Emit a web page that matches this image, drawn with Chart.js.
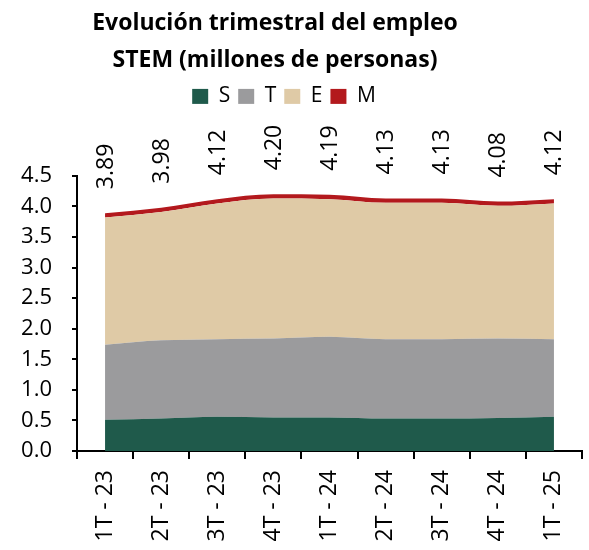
<!DOCTYPE html>
<html>
<head>
<meta charset="utf-8">
<script src="https://cdn.jsdelivr.net/npm/chart.js@4.4.1/dist/chart.umd.min.js"></script>
<style>
html,body{margin:0;padding:0;background:#fff;}
#wrap{width:589px;height:550px;position:relative;}
</style>
</head>
<body>
<div id="wrap"><canvas id="c" width="589" height="550"></canvas></div>
<script>
const categories = ["1T - 23","2T - 23","3T - 23","4T - 23","1T - 24","2T - 24","3T - 24","4T - 24","1T - 25"];
const seriesS = [0.51,0.53,0.56,0.55,0.55,0.53,0.53,0.54,0.56];
const seriesT = [1.23,1.28,1.27,1.29,1.32,1.30,1.30,1.30,1.27];
const seriesE = [2.08,2.10,2.22,2.29,2.25,2.23,2.23,2.17,2.22];
const seriesM = [0.07,0.07,0.07,0.07,0.07,0.07,0.07,0.07,0.07];
const totals = ["3.89","3.98","4.12","4.20","4.19","4.13","4.13","4.08","4.12"];
const yTicks = [0,0.5,1,1.5,2,2.5,3,3.5,4,4.5];

const FONT = "'Open Sans', 'Noto Sans', sans-serif";

const legendSpace = {
  id: 'legendSpace',
  beforeInit(chart) {
    const orig = chart.legend.fit;
    chart.legend.fit = function () { orig.bind(chart.legend)(); this.height += 55; };
  },
  afterLayout(chart) {
    if (chart.titleBlock) { chart.titleBlock.left = 0; chart.titleBlock.right = 550; chart.titleBlock.width = 550; }
    if (chart.legend) {
      chart.legend.left = 0; chart.legend.right = 568; chart.legend.width = 568;
      chart.legend.top -= 4; chart.legend.bottom -= 4;
    }
  }
};

const totalLabels = {
  id: 'totalLabels',
  afterDatasetsDraw(chart) {
    const ctx = chart.ctx;
    const xs = chart.scales.x, ys = chart.scales.y;
    ctx.save();
    ctx.fillStyle = '#000';
    ctx.font = "23px " + FONT;
    ctx.textAlign = 'left';
    ctx.textBaseline = 'middle';
    totals.forEach((t, i) => {
      const x = xs.getPixelForValue(i);
      const y = ys.getPixelForValue(parseFloat(t)) - 24;
      ctx.save();
      ctx.translate(x + 1, y);
      ctx.rotate(-Math.PI / 2);
      ctx.fillText(t, 0, 0);
      ctx.restore();
    });
    ctx.restore();
  }
};

function ds(label, data, color, fill) {
  return {
    label, data, fill,
    backgroundColor: color,
    borderColor: color,
    borderWidth: 0,
    pointRadius: 0,
    cubicInterpolationMode: 'monotone'
  };
}

new Chart(document.getElementById('c'), {
  type: 'line',
  data: {
    labels: categories,
    datasets: [
      ds('S', seriesS, '#1f5a4b', 'origin'),
      ds('T', seriesT, '#9b9b9d', '-1'),
      ds('E', seriesE, '#dfcaa6', '-1'),
      ds('M', seriesM, '#b3191d', '-1')
    ]
  },
  options: {
    responsive: false,
    animation: false,
    layout: { padding: { left: 0, right: 7, top: 2, bottom: 0 } },
    plugins: {
      title: {
        display: true,
        text: ['Evolución trimestral del empleo', 'STEM (millones de personas)'],
        color: '#000',
        font: { family: FONT, size: 23, weight: 'bold', lineHeight: 1.65 },
        padding: { top: 2, bottom: 2 }
      },
      legend: {
        display: true,
        labels: {
          color: '#000',
          font: { family: FONT, size: 21 },
          boxWidth: 16, boxHeight: 15,
          padding: 8
        }
      },
      tooltip: { enabled: false }
    },
    scales: {
      x: {
        offset: true,
        afterFit(s) { s.height = 99; s.paddingLeft = 0; s.paddingRight = 0; },
        grid: { display: true, drawOnChartArea: false, drawTicks: true, tickLength: 8, offset: true, color: '#000', lineWidth: 2 },
        border: { display: true, color: '#000', width: 2 },
        ticks: { color: '#000', font: { family: FONT, size: 23 }, maxRotation: 90, minRotation: 90, padding: 11, autoSkip: false }
      },
      y: {
        stacked: true,
        min: 0, max: 4.5,
        afterBuildTicks(scale) { scale.ticks = yTicks.map(v => ({ value: v })); },
        afterFit(s) { s.width = 77; },
        grid: { display: true, drawOnChartArea: false, drawTicks: true, tickLength: 5, color: '#000', lineWidth: 2 },
        border: { display: true, color: '#000', width: 2 },
        ticks: { color: '#000', font: { family: FONT, size: 22 }, padding: 20, autoSkip: false, callback: v => Number(v).toFixed(1) }
      }
    }
  },
  plugins: [legendSpace, totalLabels]
});
</script>
</body>
</html>
